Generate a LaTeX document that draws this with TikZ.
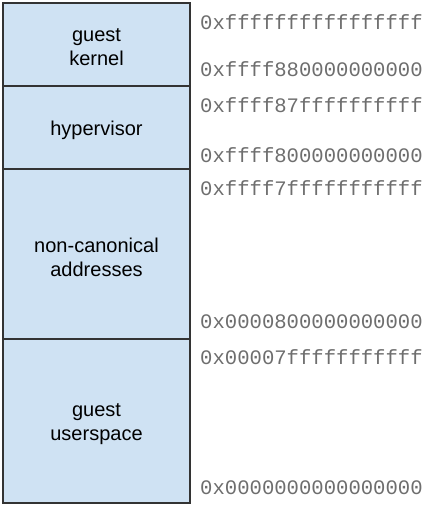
\documentclass[tikz,border=0pt]{standalone}
\usepackage{fontspec}
\setmainfont{Liberation Sans}
\setmonofont{Liberation Mono}
\usepackage{tikz}
\usetikzlibrary{positioning}
\definecolor{memblue}{HTML}{CFE2F3}
\definecolor{addrgray}{HTML}{6E6E6E}

\begin{document}
\begin{tikzpicture}[x=1pt,y=-1pt,
  region/.style={rectangle,draw=black!80,line width=1.1pt,fill=memblue,minimum width=187pt,inner sep=0pt,outer sep=0pt},
  regtext/.style={align=center,inner sep=0pt,yshift=-3pt,font=\fontsize{20}{24}\selectfont},
  addr/.style={anchor=west,inner sep=0pt,text=addrgray,font=\ttfamily\fontsize{20.6}{21}\selectfont}]
\useasboundingbox (0,0) rectangle (429,508);
\node [region,minimum height=83pt,anchor=north west] (kern) at (3,3) {};
\node [region,minimum height=83pt,below=0pt of kern] (hyp) {};
\node [region,minimum height=170pt,below=0pt of hyp] (noncan) {};
\node [region,minimum height=164pt,below=0pt of noncan] (user) {};
\node [regtext] (kernlbl) at (kern.center) {guest\\kernel};
\node [regtext] (hyplbl) at (hyp.center) {hypervisor};
\node [regtext] (noncanlbl) at (noncan.center) {non-canonical\\addresses};
\node [regtext] (userlbl) at (user.center) {guest\\userspace};
% addresses
\node [addr] (kerntop) at (200,22) {0xffffffffffffffff};
\node [addr] (kernbot) at (200,69) {0xffff880000000000};
\node [addr] (hyptop) at (200,105) {0xffff87ffffffffff};
\node [addr] (hypbot) at (200,155) {0xffff800000000000};
\node [addr] (noncantop) at (200,188) {0xffff7fffffffffff};
\node [addr] (noncanbot) at (200,322) {0x0000800000000000};
\node [addr] (usertop) at (200,357) {0x00007fffffffffff};
\node [addr] (userbot) at (200,488) {0x0000000000000000};
\end{tikzpicture}
\end{document}
